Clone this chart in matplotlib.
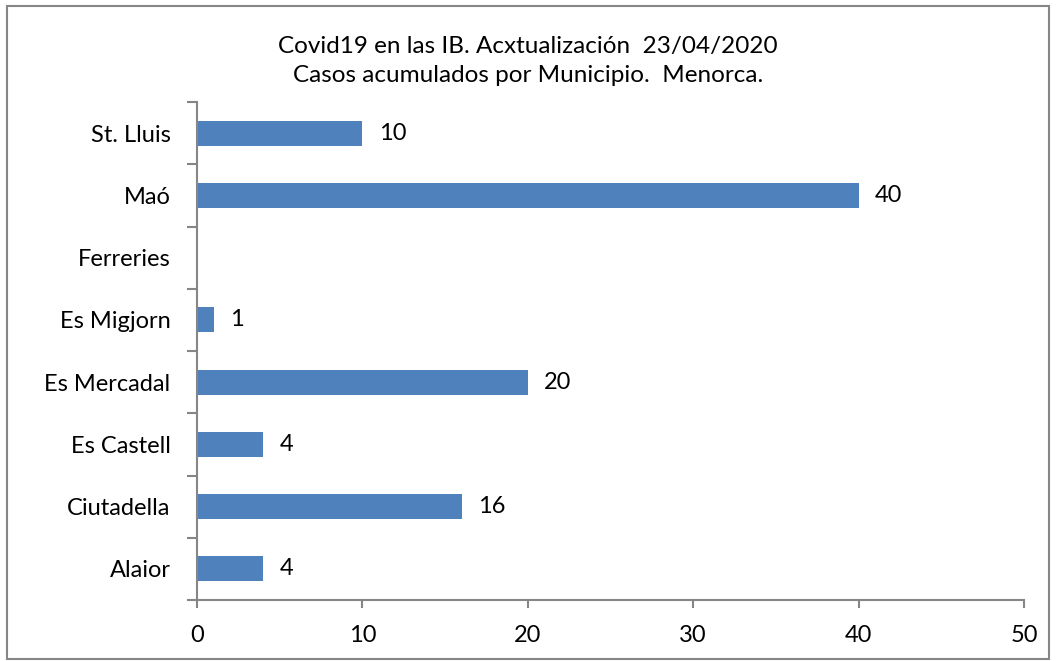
import numpy as np
import matplotlib
matplotlib.use('Agg')
import matplotlib.pyplot as plt
from matplotlib.patches import Rectangle

# ------------------------------------------------

municipios = ['Alaior', 'Ciutadella', 'Es Castell', 'Es Mercadal',
              'Es Migjorn', 'Ferreries', 'Maó', 'St. Lluis']
casos = [4, 16, 4, 20, 1, np.nan, 40, 10]
xticks = [0, 10, 20, 30, 40, 50]

title = 'Covid19 en las IB. Acxtualización  23/04/2020\nCasos acumulados por Municipio.  Menorca.'

plt.rcParams['font.family'] = ['Lato', 'DejaVu Sans']

fig = plt.figure(figsize=(10.56, 6.61), dpi=100)
ax = fig.add_axes([197/1056, 1 - 600/661, (1024-197)/1056, (600-102)/661])

gray = '#868686'
fs = 17
y = np.arange(len(municipios))
vals = np.nan_to_num(np.array(casos, dtype=float))
ax.barh(y, vals, height=0.4, color='#4F81BD', zorder=2)

for yi, v in zip(y, casos):
    if not np.isnan(v):
        ax.text(v + 1.0, yi, '{:g}'.format(v), va='center', ha='left', fontsize=fs)

ax.set_xlim(0, 50)
ax.set_ylim(-0.5, len(municipios) - 0.5)
ax.set_xticks(xticks)
ax.set_yticks(y)
ax.set_yticklabels(municipios)
ax.set_yticks(np.arange(len(municipios) + 1) - 0.5, minor=True)

for s in ['top', 'right']:
    ax.spines[s].set_visible(False)
for s in ['left', 'bottom']:
    ax.spines[s].set_color(gray)
    ax.spines[s].set_linewidth(1.5)

ax.tick_params(axis='y', which='major', length=0, pad=19, labelsize=fs)
ax.tick_params(axis='y', which='minor', length=7, width=1.5, color=gray)
ax.tick_params(axis='x', length=6, width=1.5, color=gray, pad=12, labelsize=fs)

fig.text(0.5, 1 - 61/661, title, ha='center', va='center', fontsize=17.5, linespacing=1.5)

fig.patches.append(Rectangle((7/1056, 1 - 659/661), (1049-7)/1056, (659-6)/661,
                             transform=fig.transFigure, fill=False,
                             edgecolor=gray, linewidth=1.5))

fig.savefig('out.png', dpi=100)
